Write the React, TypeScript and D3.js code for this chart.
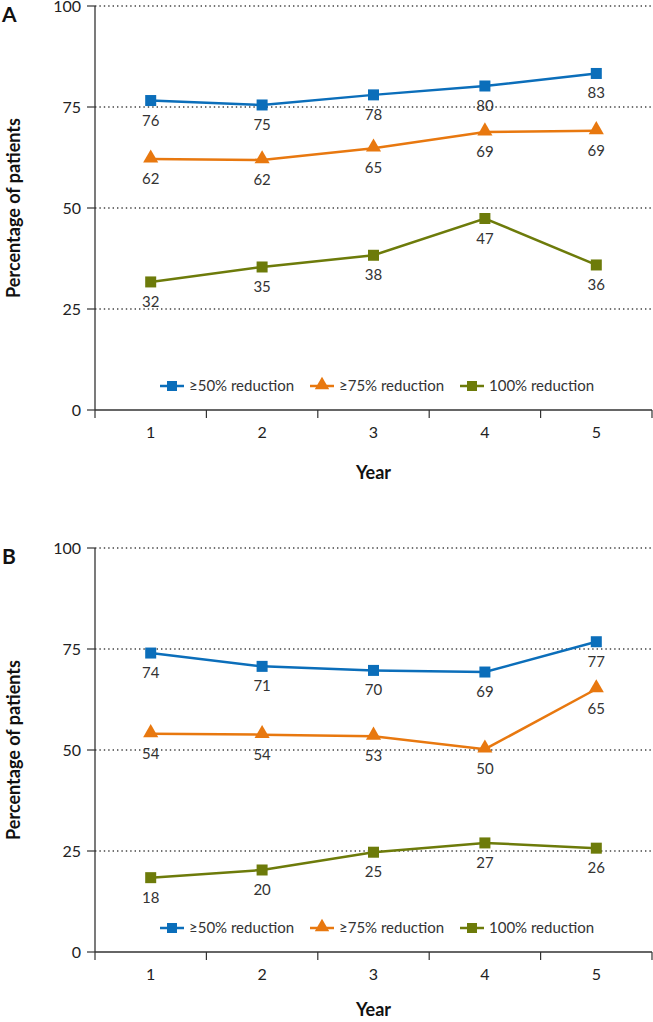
import React from "react";
import * as d3 from "d3";

const years = ["1", "2", "3", "4", "5"];
const yTicks = [0, 25, 50, 75, 100];
const seriesNames = ["≥50% reduction", "≥75% reduction", "100% reduction"];
const seriesColors = ["#0B6EBA", "#E8780F", "#6D7B0A"];
const seriesShapes = ["square", "triangle", "square"];

const panelA50 = [76.6, 75.5, 78.0, 80.2, 83.3];
const panelA75 = [62.1, 61.9, 64.8, 68.8, 69.1];
const panelA100 = [31.7, 35.4, 38.3, 47.4, 35.9];
const panelALabels = [
  ["76", "75", "78", "80", "83"],
  ["62", "62", "65", "69", "69"],
  ["32", "35", "38", "47", "36"],
];

const panelB50 = [74.0, 70.7, 69.7, 69.3, 76.8];
const panelB75 = [54.0, 53.8, 53.4, 50.2, 65.1];
const panelB100 = [18.4, 20.3, 24.7, 27.0, 25.7];
const panelBLabels = [
  ["74", "71", "70", "69", "77"],
  ["54", "54", "53", "50", "65"],
  ["18", "20", "25", "27", "26"],
];

const FONT = "Lato, 'Open Sans', sans-serif";
const W = 653;

function Marker({ shape, x, y, color, size }: any) {
  if (shape === "triangle") {
    const p = d3.symbol(d3.symbolTriangle, size * 9)();
    return <path d={p as string} transform={`translate(${x},${y - 1})`} fill={color} />;
  }
  return <rect x={x - size / 2} y={y - size / 2} width={size} height={size} fill={color} />;
}

function Panel({ top, letter, series, labels, yearOffset }: any) {
  const left = 95;
  const right = 652;
  const yTop = top;
  const yBottom = top + 404;
  const x = d3.scaleBand().domain(years).range([left, right]);
  const y = d3.scaleLinear().domain([0, 100]).range([yBottom, yTop]);
  const line = d3
    .line<number>()
    .x((_, i) => (x(years[i]) as number) + x.bandwidth() / 2)
    .y((d) => y(d));
  const legendY = yBottom - 24;
  const legendX = [160, 310, 460];
  const boundaries = d3.range(0, years.length + 1).map((i) => left + i * x.bandwidth());
  return (
    <g>
      <text x={2} y={top + 16} fontFamily={FONT} fontWeight="bold" fontSize={21} fill="#111">
        {letter}
      </text>
      {yTicks.map((t) => (
        <g key={t}>
          {t > 0 && (
            <line x1={left} x2={right} y1={y(t)} y2={y(t)} stroke="#444" strokeWidth={1.3} strokeDasharray="1.4,3" />
          )}
          <line x1={left - 8} x2={left} y1={y(t)} y2={y(t)} stroke="#333" strokeWidth={1.2} />
          <text x={81} y={y(t)} dy="0.35em" textAnchor="end" fontFamily={FONT} fontSize={16} fill="#222">
            {t}
          </text>
        </g>
      ))}
      <line x1={left} x2={left} y1={yTop} y2={yBottom} stroke="#333" strokeWidth={1.3} />
      <line x1={left} x2={right} y1={yBottom} y2={yBottom} stroke="#333" strokeWidth={1.3} />
      {boundaries.map((b, i) => (
        <line key={i} x1={b} x2={b} y1={yBottom} y2={yBottom + 8} stroke="#333" strokeWidth={1.2} />
      ))}
      {years.map((yr) => (
        <text key={yr} x={(x(yr) as number) + x.bandwidth() / 2} y={yBottom + 28} textAnchor="middle" fontFamily={FONT} fontSize={16} fill="#222">
          {yr}
        </text>
      ))}
      <text x={(left + right) / 2} y={yBottom + yearOffset} textAnchor="middle" fontFamily={FONT} fontWeight="bold" fontSize={18} fill="#111">
        Year
      </text>
      <text
        transform={`translate(20,${(yTop + yBottom) / 2}) rotate(-90)`}
        textAnchor="middle"
        fontFamily={FONT}
        fontWeight="bold"
        fontSize={18}
        fill="#111"
      >
        Percentage of patients
      </text>
      {series.map((vals: number[], si: number) => (
        <g key={si}>
          <path d={line(vals) as string} fill="none" stroke={seriesColors[si]} strokeWidth={2.5} />
          {vals.map((v, i) => {
            const cx = (x(years[i]) as number) + x.bandwidth() / 2;
            return (
              <g key={i}>
                <Marker shape={seriesShapes[si]} x={cx} y={y(v)} color={seriesColors[si]} size={11} />
                <text x={cx} y={y(v) + 25} textAnchor="middle" fontFamily={FONT} fontSize={15} fill="#333">
                  {labels[si][i]}
                </text>
              </g>
            );
          })}
        </g>
      ))}
      {seriesNames.map((n, si) => (
        <g key={n}>
          <line x1={legendX[si]} x2={legendX[si] + 24} y1={legendY} y2={legendY} stroke={seriesColors[si]} strokeWidth={2.5} />
          <Marker shape={seriesShapes[si]} x={legendX[si] + 12} y={legendY} color={seriesColors[si]} size={10} />
          <text x={legendX[si] + 29} y={legendY} dy="0.35em" fontFamily={FONT} fontSize={15} fill="#333">
            {n}
          </text>
        </g>
      ))}
    </g>
  );
}

export default function App() {
  return (
    <svg width={W} height={1022} style={{ position: "absolute", left: 0, top: 0, background: "#fff" }}>
      <Panel top={6} letter="A" series={[panelA50, panelA75, panelA100]} labels={panelALabels} yearOffset={69} />
      <Panel top={548} letter="B" series={[panelB50, panelB75, panelB100]} labels={panelBLabels} yearOffset={64} />
    </svg>
  );
}
